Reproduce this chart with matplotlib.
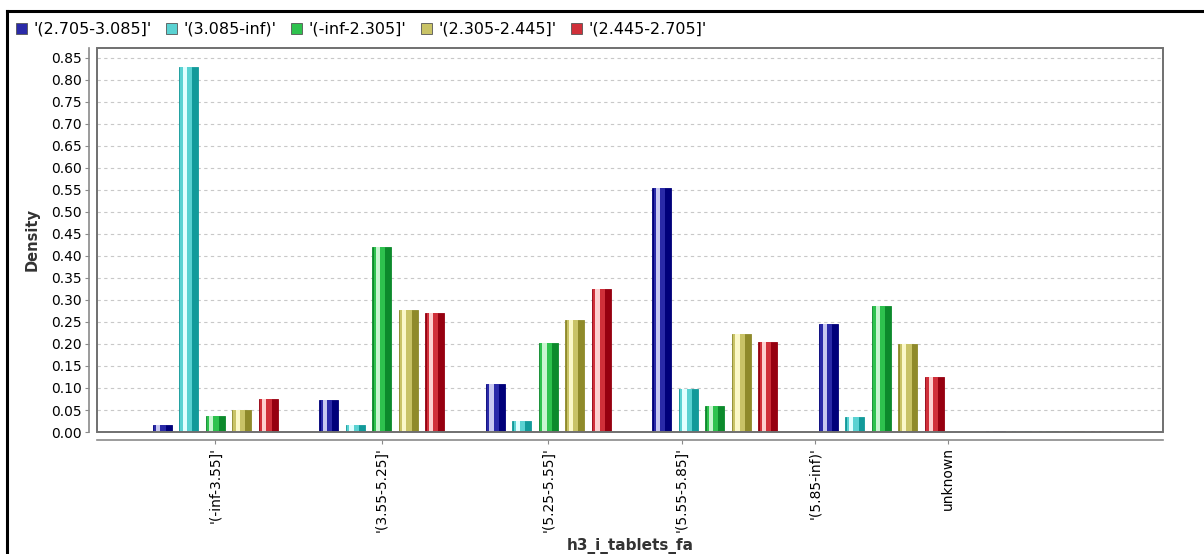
import numpy as np
import matplotlib.pyplot as plt
from matplotlib.patches import Patch, Rectangle

# categories (bins of h3_i_tablets_fa) and class series
categories = ["'(-inf-3.55]'", "'(3.55-5.25]'", "'(5.25-5.55]'", "'(5.55-5.85]'", "'(5.85-inf)'", "unknown"]
series_names = ["'(2.705-3.085]'", "'(3.085-inf)'", "'(-inf-2.305]'", "'(2.305-2.445]'", "'(2.445-2.705]'"]

blue_vals = [0.016, 0.072, 0.108, 0.555, 0.245, 0.003]
cyan_vals = [0.830, 0.017, 0.025, 0.097, 0.034, 0.003]
green_vals = [0.036, 0.420, 0.202, 0.059, 0.286, 0.003]
yellow_vals = [0.050, 0.278, 0.254, 0.222, 0.199, 0.003]
red_vals = [0.075, 0.271, 0.326, 0.204, 0.125, 0.003]

yticks = np.arange(0, 0.851, 0.05)

####Styles####
face_cols = ['#2a2aa8', '#5ad2d2', '#2ec24e', '#c9c366', '#d0303a']
dark_cols = ['#00007a', '#129a9a', '#0c8a2c', '#8f8a2a', '#960010']
light_cols = ['#c8c8f0', '#e0ffff', '#c8f5d0', '#fbf8c8', '#fdd0d0']

fig = plt.figure(figsize=(12.04, 5.54), dpi=100)
ax = fig.add_axes([0.0806, 0.2202, 0.8853, 0.6932])

x = np.arange(len(categories))
step = 0.159
width = 0.114
allvals = [blue_vals, cyan_vals, green_vals, yellow_vals, red_vals]
for i, vals in enumerate(allvals):
    xs = x + (i - 2) * step
    # fake 3d shading: dark base, mid body, light highlight strip
    ax.bar(xs, vals, width, color=dark_cols[i], edgecolor=dark_cols[i], linewidth=0.6, zorder=3)
    ax.bar(xs - width * 0.12, vals, width * 0.62, color=face_cols[i], linewidth=0, zorder=4)
    ax.bar(xs - width * 0.2, vals, width * 0.22, color=light_cols[i], linewidth=0, zorder=5)

ax.set_ylim(0, 0.8726)
ax.set_xlim(-0.709, 5.69)
ax.set_yticks(yticks)
ax.set_yticklabels(['%.2f' % v for v in yticks], fontsize=11, color='#333333')
# tick labels in the original sit off the group centres for the last groups
ax.set_xticks([0, 1, 2, 2.8, 3.6, 4.4])
ax.set_xticklabels(categories, fontsize=10.5, color='#333333')
ax.tick_params(axis='x', labelrotation=90)
ax.yaxis.grid(True, linestyle=(0, (3, 3)), color='#c8c8c8', linewidth=0.8, zorder=0)
ax.set_axisbelow(True)

for side in ['top', 'right']:
    ax.spines[side].set_visible(False)
for side in ['left', 'bottom']:
    ax.spines[side].set_position(('outward', 6))
    ax.spines[side].set_color('#8a8a8a')
    ax.spines[side].set_linewidth(1.2)
ax.add_patch(Rectangle((0, 0), 1, 1, transform=ax.transAxes, fill=False,
                       edgecolor='#707070', linewidth=1.4, zorder=6, clip_on=False))
ax.tick_params(axis='both', length=3, color='#8a8a8a', pad=2)

ax.set_ylabel('Density', fontsize=10.5, fontweight='bold', color='#333333', labelpad=8)
ax.set_xlabel('h3_i_tablets_fa', fontsize=11, fontweight='bold', color='#333333')
ax.xaxis.set_label_coords(0.5, -0.277)

handles = [Patch(facecolor=face_cols[i], edgecolor='#555555', linewidth=0.6) for i in range(5)]
fig.legend(handles, series_names, loc='upper left', bbox_to_anchor=(0.008, 0.972), ncol=5,
           frameon=False, fontsize=11.5, handlelength=0.7, handleheight=0.7,
           handletextpad=0.4, columnspacing=0.9, borderaxespad=0)

# outer frame line of the screenshot
fig.add_artist(plt.Line2D([0.006, 0.006], [0, 0.981], color='black', linewidth=2.2, transform=fig.transFigure))
fig.add_artist(plt.Line2D([0.006, 1.0], [0.981, 0.981], color='black', linewidth=2.2, transform=fig.transFigure))

fig.savefig('out.png', dpi=100)
